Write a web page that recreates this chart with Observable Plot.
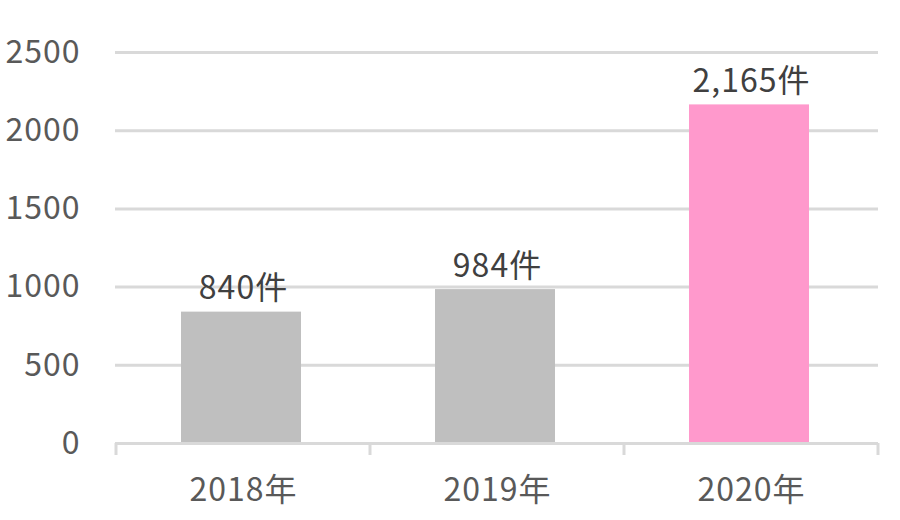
<!DOCTYPE html>
<html><head><meta charset="utf-8">
<script src="https://cdn.jsdelivr.net/npm/d3@7"></script>
<script src="https://cdn.jsdelivr.net/npm/@observablehq/plot@0.6"></script>
<style>body{margin:0;background:#fff} svg text{letter-spacing:1px}</style></head>
<body><div id="chart"></div>
<script>
const years = ["2018年", "2019年", "2020年"];
const counts = [840, 984, 2165];
const valueLabels = ["840件", "984件", "2,165件"];
const barColors = ["#bfbfbf", "#bfbfbf", "#ff99cc"];
const yTicks = [0, 500, 1000, 1500, 2000, 2500];

const data = years.map((y, i) => ({year: y, count: counts[i], label: valueLabels[i], color: barColors[i]}));
const font = "'Noto Sans CJK JP', 'Noto Sans', sans-serif";

const plot = Plot.plot({
  width: 900, height: 520,
  marginTop: 52, marginBottom: 77, marginLeft: 115, marginRight: 22,
  style: {fontFamily: font, fontSize: "32px", color: "#595959", background: "#fff"},
  x: {domain: years, paddingInner: 0.528, paddingOuter: 0.264, label: null},
  y: {domain: [0, 2500], label: null},
  color: {type: "identity"},
  marks: [
    Plot.gridY(yTicks, {stroke: "#d9d9d9", strokeOpacity: 1, strokeWidth: 3}),
    Plot.barY(data, {x: "year", y: "count", fill: "color", dx: -2}),
    Plot.ruleY([0], {stroke: "#d9d9d9", strokeWidth: 3}),
    Plot.text(data, {x: "year", y: "count", text: "label", dy: -23, fill: "#404040", fontSize: 32, lineAnchor: "middle"}),
    Plot.axisX({tickSize: 0, tickPadding: 35, fontSize: 32, fill: "#595959", label: null}),
    Plot.axisY(yTicks, {tickSize: 0, tickPadding: 35, fontSize: 32, fill: "#595959", label: null, tickFormat: d3.format("d")})
  ]
});

// category boundary tick marks derived from the band scale
const sx = plot.scale("x"), sy = plot.scale("y");
const y0 = sy.apply(0);
const bounds = years.map(d => sx.apply(d) + sx.bandwidth / 2 - sx.step / 2);
bounds.push(sx.apply(years[years.length - 1]) + sx.bandwidth / 2 + sx.step / 2);
d3.select(plot).append("g").selectAll("line").data(bounds).join("line")
  .attr("x1", d => d).attr("x2", d => d)
  .attr("y1", y0).attr("y2", y0 + 12)
  .attr("stroke", "#d9d9d9").attr("stroke-width", 3);

document.getElementById("chart").appendChild(plot);
</script>
</body></html>
